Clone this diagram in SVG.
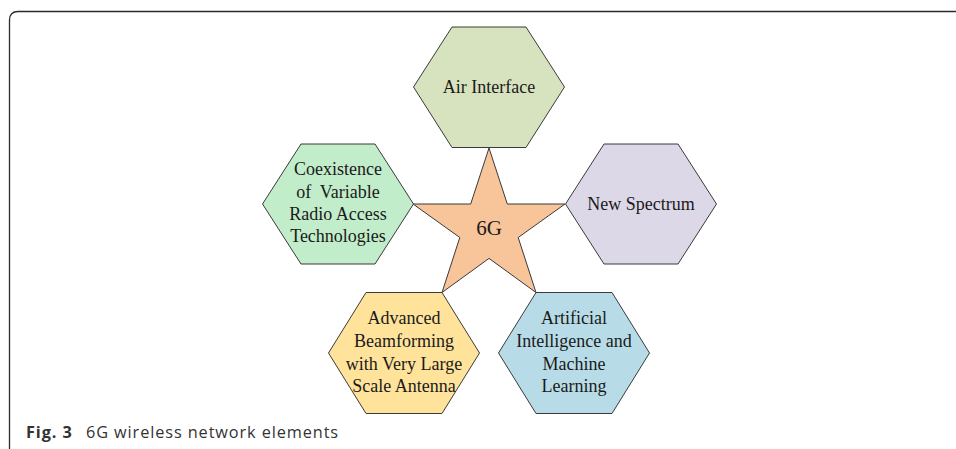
<svg xmlns="http://www.w3.org/2000/svg" width="956" height="449" viewBox="0 0 956 449">
<style>
.hex{stroke:#3a3a3a;stroke-width:1}
.lbl{font-family:"Liberation Serif","Times New Roman",serif;font-size:18px;fill:#1a1a1a;text-anchor:middle}
.cap{font-family:"Open Sans","Noto Sans",sans-serif;font-size:16.3px;letter-spacing:0.9px;fill:#333}
</style>
<rect width="956" height="449" fill="#fff"/>
<path d="M9.5 449 V20 Q9.5 11.5 18 11.5 H956" fill="none" stroke="#2b2b2b" stroke-width="1.3"/>
<g id="connectors"></g>
<g id="star-6g">
<polygon class="hex" fill="#F8C59B" points="489,148 507.3,204 565,204 518.2,237.5 536,292.5 489,258.4 442,292.5 459.8,237.5 413,204 470.7,204"/>
<text class="lbl" x="489" y="235" style="font-size:21px">6G</text>
</g>
<g id="air-interface">
<polygon class="hex" fill="#D7E3BF" points="413.5,87 452,27 526,27 564.5,87 526,147.5 452,147.5"/>
<text class="lbl" x="489" y="93">Air Interface</text>
</g>
<g id="new-spectrum">
<polygon class="hex" fill="#DCD8E7" points="565.5,204 604,144 678,144 716.5,204 678,264 604,264"/>
<text class="lbl" x="641" y="210">New Spectrum</text>
</g>
<g id="coexistence">
<polygon class="hex" fill="#C2EDCA" points="262.5,204 301,144 375,144 413.5,204 375,264 301,264"/>
<text class="lbl" x="338" y="175">Coexistence</text>
<text class="lbl" x="338" y="198">of&#160; Variable</text>
<text class="lbl" x="338" y="220">Radio Access</text>
<text class="lbl" x="338" y="242">Technologies</text>
</g>
<g id="advanced-beamforming">
<polygon class="hex" fill="#FFE39B" points="328.5,353 366,292.5 442,292.5 479.5,353 442,413.5 366,413.5"/>
<text class="lbl" x="404" y="324">Advanced</text>
<text class="lbl" x="404" y="347">Beamforming</text>
<text class="lbl" x="404" y="370">with Very Large</text>
<text class="lbl" x="404" y="392">Scale Antenna</text>
</g>
<g id="ai-ml">
<polygon class="hex" fill="#B8DCE7" points="498.5,353 536,292.5 612,292.5 649.5,353 612,413.5 536,413.5"/>
<text class="lbl" x="574" y="324">Artificial</text>
<text class="lbl" x="574" y="347">Intelligence and</text>
<text class="lbl" x="574" y="370">Machine</text>
<text class="lbl" x="574" y="392">Learning</text>
</g>
<text class="cap" y="438"><tspan x="26" font-weight="bold">Fig. 3</tspan><tspan x="86">6G wireless network elements</tspan></text>
</svg>
